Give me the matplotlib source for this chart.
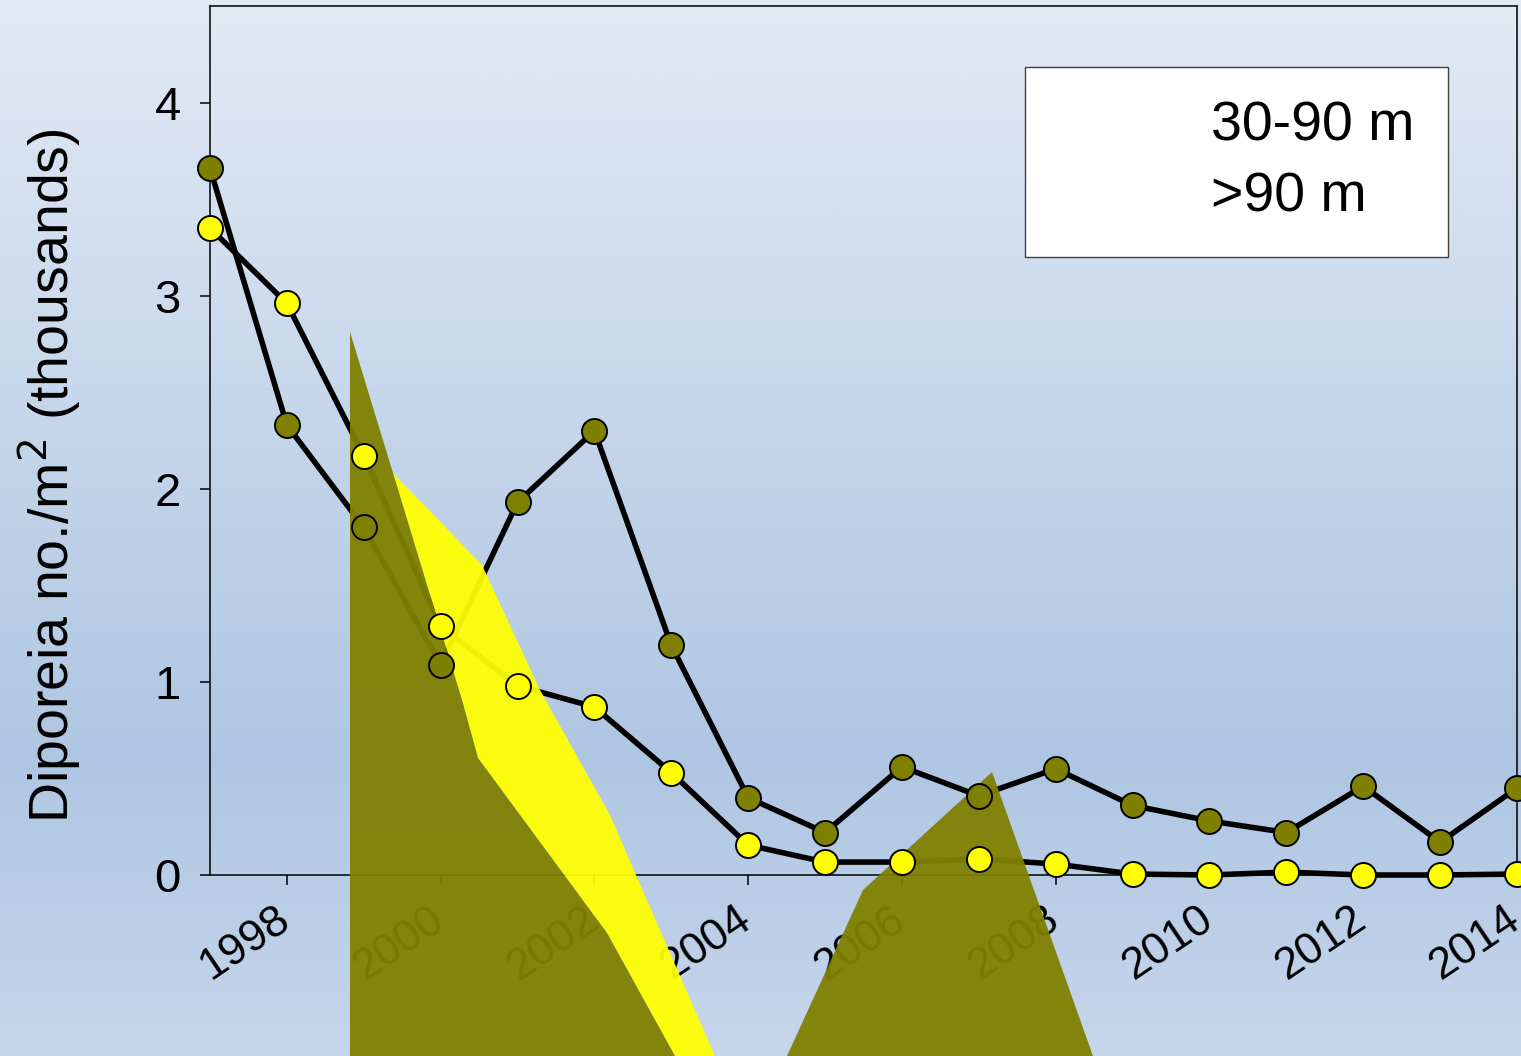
import numpy as np
import matplotlib
matplotlib.use("Agg")
import matplotlib.pyplot as plt
from matplotlib.patches import Polygon
from matplotlib.lines import Line2D
from matplotlib.colors import LinearSegmentedColormap
import matplotlib.transforms as mtransforms

plt.rcParams['font.family'] = ['Liberation Sans', 'DejaVu Sans']

# ---- data ----
years = list(range(1997, 2015))
deep_gt90 = [3.66, 2.33, 1.80, 1.09, 1.93, 2.30, 1.19, 0.40, 0.22, 0.56,
             0.41, 0.55, 0.36, 0.28, 0.22, 0.46, 0.17, 0.45]
mid_30_90 = [3.35, 2.96, 2.17, 1.29, 0.98, 0.87, 0.53, 0.155, 0.067, 0.067,
             0.083, 0.057, 0.005, 0.0, 0.015, 0.0, 0.0, 0.005]
xtick_years = list(range(1998, 2015, 2))
ytick_vals = [0, 1, 2, 3, 4]
legend_labels = ['30-90 m', '>90 m']

W, H = 1521, 1056
fig = plt.figure(figsize=(W / 100, H / 100), dpi=100)
fig.patch.set_facecolor('#c8d6ea')

# background gradient
bg = fig.add_axes([0, 0, 1, 1], zorder=-10)
bg.axis('off')
cmap = LinearSegmentedColormap.from_list(
    'bg', [(0.0, (226/255, 234/255, 245/255)),
           (0.72, (175/255, 198/255, 226/255)),
           (1.0, (198/255, 214/255, 236/255))])
grad = np.linspace(0, 1, 512).reshape(-1, 1)
bg.imshow(grad, cmap=cmap, aspect='auto', extent=[0, 1, 0, 1], origin='upper')
bg.set_xlim(0, 1); bg.set_ylim(0, 1)

ax = fig.add_axes([210 / W, 1 - 875 / H, (1517 - 210) / W, (875 - 6) / H])
ax.set_facecolor('none')

# connecting lines (below the overlay shapes)
ax.plot(years, deep_gt90, color='black', lw=4.0, zorder=2, clip_on=False)
ax.plot(years, mid_30_90, color='black', lw=4.0, zorder=2.1, clip_on=False)
# markers (above the overlay shapes)
ax.plot(years, deep_gt90, linestyle='none', marker='o', ms=18,
        mfc='#808000', mec='black', mew=1.4, zorder=4, clip_on=False)
ax.plot(years, mid_30_90, linestyle='none', marker='o', ms=18,
        mfc='#ffff00', mec='black', mew=1.4, zorder=4.1, clip_on=False)

ax.set_xlim(1997, 2014)
ax.set_ylim(0, 4.5)
ax.set_xticks(xtick_years)
ax.set_xticklabels([str(y) for y in xtick_years], fontsize=32, rotation=34,
                   ha='right', va='top')
ax.set_yticks(ytick_vals)
ax.set_yticklabels([str(v) for v in ytick_vals], fontsize=34)
ax.tick_params(axis='both', direction='out', length=7, width=1.1, color='black')
ax.tick_params(axis='y', pad=14)
ax.tick_params(axis='x', pad=10)
for s in ax.spines.values():
    s.set_linewidth(1.1)
    s.set_color('black')

offset = mtransforms.ScaledTranslation(11 / 100, 0, fig.dpi_scale_trans)
for lab in ax.get_xticklabels():
    lab.set_transform(lab.get_transform() + offset)

fig.text(50 / W, 1 - 476 / H, r'Diporeia no./m$^{2}$ (thousands)', rotation=90,
         fontsize=40, ha='center', va='center')

handles = [Line2D([], [], color='none') for _ in legend_labels]
leg = ax.legend(handles, legend_labels, loc='upper left',
                bbox_to_anchor=(1025 / W, 1 - 67 / H), bbox_transform=fig.transFigure,
                fontsize=40, frameon=True, fancybox=False, framealpha=1,
                edgecolor='#404040', facecolor='white', borderpad=0.61,
                labelspacing=0.33, handlelength=2.36, handletextpad=0.38,
                borderaxespad=0)
leg.get_frame().set_linewidth(1.0)

# overlay shapes (as in the reference picture)
def fig_pts(pts):
    return [(x / W, 1 - y / H) for x, y in pts]

yellow_shape = fig_pts([(393, 473), (482, 565), (540, 690), (610, 815), (636, 875),
                        (715, 1056), (675, 1056), (607, 933), (478, 758), (462, 700)])
olive_shape1 = fig_pts([(350, 332), (393, 473), (462, 700), (478, 758), (607, 933),
                        (675, 1056), (350, 1056)])
olive_shape2 = fig_pts([(787, 1056), (863, 890), (992, 772), (1093, 1056)])
for pts, col, a, z in [(yellow_shape, '#ffff00', 0.94, 3.0),
                       (olive_shape1, '#808000', 0.95, 3.1),
                       (olive_shape2, '#808000', 0.95, 3.1)]:
    p = Polygon(pts, closed=True, transform=fig.transFigure, facecolor=col,
                edgecolor='none', alpha=a, zorder=z, clip_on=False)
    ax.add_artist(p)

fig.savefig('out.png', dpi=100)
